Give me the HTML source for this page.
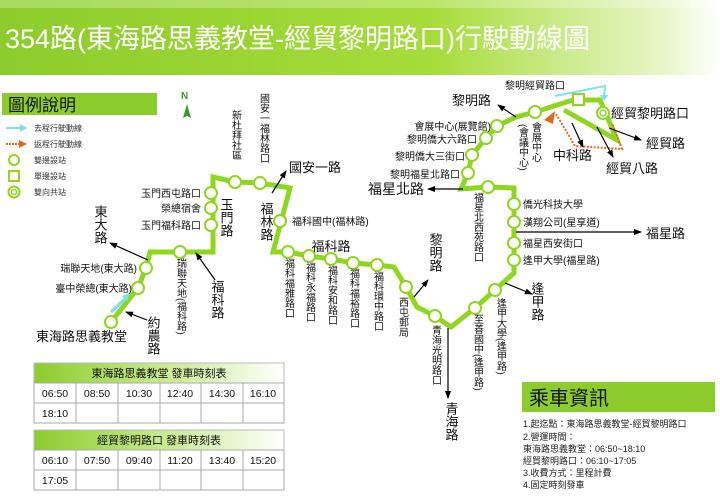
<!DOCTYPE html>
<html><head><meta charset="utf-8"><style>
body{margin:0;width:720px;height:491px;overflow:hidden;background:#fff;font-family:"Liberation Sans","Noto Sans CJK TC",sans-serif}
svg text{font-family:"Liberation Sans","Noto Sans CJK TC",sans-serif}
</style></head><body>
<svg width="720" height="491" viewBox="0 0 720 491" xmlns="http://www.w3.org/2000/svg">
<defs>
<linearGradient id="hd" x1="0" x2="1" y1="0" y2="0">
<stop offset="0" stop-color="#8ccc2c"/><stop offset="0.6" stop-color="#a6dc3a"/><stop offset="0.92" stop-color="#e8f6c8"/><stop offset="1" stop-color="#fff"/></linearGradient>
<linearGradient id="th" x1="0" x2="1"><stop offset="0" stop-color="#8ccc2c"/><stop offset="0.5" stop-color="#c6ea8a"/><stop offset="1" stop-color="#fff"/></linearGradient>
<marker id="ar" markerWidth="8" markerHeight="8" refX="7" refY="4" orient="auto" markerUnits="userSpaceOnUse"><path d="M0,1 L8,4 L0,7z" fill="#000"/></marker>
</defs>
<rect x="0" y="0" width="720" height="75" fill="url(#hd)"/>
<rect x="0" y="0" width="720" height="8" fill="#fff" opacity="0.25"/>
<text x="5" y="48" font-size="27" fill="#fff">354路(東海路思義教堂-經貿黎明路口)行駛動線圖</text>

<!-- legend -->
<rect x="2" y="93" width="155" height="22" fill="#8ccc2c"/>
<text x="8" y="111" font-size="17" fill="#111">圖例說明</text>
<g font-size="8" fill="#333">
<line x1="6" y1="128" x2="22" y2="128" stroke="#7ee0f0" stroke-width="2"/><path d="M20,124 L27,128 L20,132z" fill="#7ee0f0"/><text x="34" y="131">去程行駛動線</text>
<line x1="6" y1="144" x2="20" y2="144" stroke="#e06a1a" stroke-width="2" stroke-dasharray="2,1"/><path d="M19,140 L27,144 L19,148z" fill="#e06a1a"/><text x="34" y="147">返程行駛動線</text>
<circle cx="14" cy="160" r="5" fill="#fff" stroke="#8fd61e" stroke-width="2"/><text x="34" y="163">雙邊設站</text>
<rect x="9" y="171" width="10" height="10" fill="#fff" stroke="#8fd61e" stroke-width="2"/><text x="34" y="179">單邊設站</text>
<circle cx="14" cy="192" r="5.5" fill="#fff" stroke="#8fd61e" stroke-width="2"/><circle cx="14" cy="192" r="2.5" fill="none" stroke="#8fd61e" stroke-width="1.5"/><text x="34" y="195">雙向共站</text>
</g>
<text x="181" y="99" font-size="10" font-weight="bold" fill="#3a9a2a">N</text>
<path d="M187,104 L183,118 L187,116 L191,118z" fill="#3a9a2a"/>

<!-- route -->
<g fill="none" stroke="#8fd61e" stroke-width="5" stroke-linejoin="miter">
<polyline points="111,322 138,288 146,268 150,252 213,252 213,177 235,182 260,183 290,188 273,252 288,252 309,256 331,259 353,263 377,265 394,267 406,287 417,307 435,316 451,327 475,308 495,290 514,273 514,188 488,187 461,189 468,173 472,155 486,138 497,126 516,117 535,112 573,100"/>
<polyline points="573,100 600,100 617,140 564,110"/>
</g>
<!-- direction lines -->
<polyline points="555,96 605,86 604,97" fill="none" stroke="#7ee0f0" stroke-width="2"/>
<path d="M600,95 L604,101 L608,95z" fill="#7ee0f0"/>
<polyline points="556,114 575,146 622,149 612,123" fill="none" stroke="#e06a1a" stroke-width="2" stroke-dasharray="2,1.5"/>
<path d="M544,120 L555,111 L553,124z" fill="#e06a1a"/>
<line x1="111" y1="312" x2="126" y2="298" stroke="#7ee0f0" stroke-width="3"/>
<path d="M122,296 L130,293 L127,301z" fill="#7ee0f0"/>

<!-- stations -->
<g fill="#fff" stroke="#8fd61e" stroke-width="2">
<circle cx="111" cy="322" r="6"/><circle cx="138" cy="288" r="6"/><circle cx="146" cy="268" r="6"/><circle cx="180" cy="252" r="6"/>
<circle cx="211" cy="193" r="6"/><circle cx="211" cy="208" r="6"/><circle cx="211" cy="225" r="6"/>
<circle cx="235" cy="182" r="6"/><circle cx="260" cy="183" r="6"/><circle cx="280" cy="221" r="6"/>
<circle cx="288" cy="252" r="6"/><circle cx="309" cy="256" r="6"/><circle cx="331" cy="259" r="6"/><circle cx="353" cy="263" r="6"/><circle cx="377" cy="265" r="6"/>
<circle cx="406" cy="287" r="6"/><circle cx="435" cy="316" r="6"/><circle cx="475" cy="308" r="6"/><circle cx="495" cy="290" r="6"/>
<circle cx="514" cy="260" r="6"/><circle cx="514" cy="243" r="6"/><circle cx="514" cy="222" r="6"/><circle cx="514" cy="204" r="6"/><circle cx="488" cy="187" r="6"/>
<circle cx="468" cy="173" r="6"/><circle cx="472" cy="155" r="6"/><circle cx="486" cy="138" r="6"/><circle cx="497" cy="126" r="6"/><circle cx="535" cy="112" r="6"/>
<rect x="573" y="94" width="11" height="11"/>
<circle cx="603" cy="113" r="6"/>
</g>
<circle cx="603" cy="113" r="3" fill="none" stroke="#8fd61e" stroke-width="1.5"/>

<!-- arrows -->
<g stroke="#000" stroke-width="1.2" marker-end="url(#ar)">
<line x1="272" y1="193" x2="286" y2="171"/>
<line x1="148" y1="260" x2="110" y2="243"/>
<line x1="147" y1="320" x2="126" y2="312"/>
<line x1="215" y1="280" x2="196" y2="253"/>
<line x1="414" y1="297" x2="428" y2="280"/>
<line x1="448" y1="328" x2="448" y2="398"/>
<line x1="505" y1="283" x2="532" y2="294"/>
<line x1="516" y1="232" x2="641" y2="232"/>
<line x1="463" y1="189" x2="428" y2="189"/>
<line x1="516" y1="117" x2="498" y2="105"/>
<line x1="572" y1="123" x2="583" y2="147"/>
<line x1="597" y1="127" x2="613" y2="157"/>
<line x1="609" y1="128" x2="641" y2="140"/>
</g>

<!-- labels -->
<g fill="#111" font-size="11">
<text x="127" y="341" font-size="13" text-anchor="end">東海路思義教堂</text>
<text x="132" y="292" text-anchor="end" font-size="10">臺中榮總(東大路)</text>
<text x="137" y="272" text-anchor="end" font-size="10">瑞聯天地(東大路)</text>
<text x="201" y="197" text-anchor="end" font-size="10">玉門西屯路口</text>
<text x="201" y="212" text-anchor="end" font-size="10">榮總宿舍</text>
<text x="201" y="229" text-anchor="end" font-size="10">玉門福科路口</text>
<text x="292" y="225" font-size="10">福科國中(福林路)</text>
<text x="368" y="194" font-size="14">福星北路</text>
<text x="491" y="130" text-anchor="end" font-size="10">會展中心(展覽館)</text>
<text x="477" y="143" text-anchor="end" font-size="10">黎明僑大六路口</text>
<text x="465" y="160" text-anchor="end" font-size="10">黎明僑大三街口</text>
<text x="460" y="178" text-anchor="end" font-size="10">黎明福星北路口</text>
<text x="505" y="89" font-size="10">黎明經貿路口</text>
<text x="452" y="105" font-size="13">黎明路</text>
<text x="611" y="118" font-size="13">經貿黎明路口</text>
<text x="646" y="148" font-size="13">經貿路</text>
<text x="553" y="160" font-size="13">中科路</text>
<text x="606" y="173" font-size="13">經貿八路</text>
<text x="289" y="172" font-size="13">國安一路</text>
<text x="523" y="208" font-size="10">僑光科技大學</text>
<text x="523" y="226" font-size="10">漢翔公司(星享道)</text>
<text x="523" y="247" font-size="10">福星西安街口</text>
<text x="523" y="264" font-size="10">逢甲大學(福星路)</text>
<text x="646" y="238" font-size="13">福星路</text>
<text x="331" y="251" font-size="13" text-anchor="middle">福科路</text>
</g>
<!-- vertical labels -->
<g fill="#111" font-size="11" style="writing-mode:vertical-rl" text-anchor="start">
<text x="100" y="205" font-size="13">東大路</text>
<text x="153" y="316" font-size="13">約農路</text>
<text x="180" y="258" font-size="10">瑞聯天地(福科路)</text>
<text x="217" y="280" font-size="13">福科路</text>
<text x="226" y="198" font-size="13">玉門路</text>
<text x="266" y="202" font-size="13">福林路</text>
<text x="235" y="110" font-size="10">新杜拜社區</text>
<text x="263" y="93" font-size="10">國安一福林路口</text>
<text x="288" y="258" font-size="10">福科福雅路口</text>
<text x="309" y="262" font-size="10">福科永福路口</text>
<text x="331" y="265" font-size="10">福科安和路口</text>
<text x="353" y="268" font-size="10">福科福裕路口</text>
<text x="377" y="271" font-size="10">福科環中路口</text>
<text x="402" y="297" font-size="10">西屯郵局</text>
<text x="435" y="233" font-size="13">黎明路</text>
<text x="435" y="325" font-size="10">青海光明路口</text>
<text x="451" y="402" font-size="13">青海路</text>
<text x="477" y="314" font-size="10">至善國中(逢甲路)</text>
<text x="500" y="298" font-size="10">逢甲大學(逢甲路)</text>
<text x="537" y="282" font-size="13">逢甲路</text>
<text x="477" y="192" font-size="10">福星北西苑路口</text>
<text x="535" y="122" font-size="10">會展中心</text>
<text x="522" y="124" font-size="10">(會議中心)</text>
</g>

<!-- tables -->
<g font-size="10.5" fill="#111" text-anchor="middle">
<rect x="34" y="363" width="250" height="20" fill="url(#th)" stroke="#bbb"/>
<text x="159" y="377" font-size="11">東海路思義教堂 發車時刻表</text>
<rect x="34" y="383" width="250" height="40" fill="#fff" stroke="#aaa"/>
<path d="M34,403H284 M76,383V423 M118,383V423 M160,383V423 M201,383V423 M243,383V423" stroke="#aaa"/>
<text x="55" y="397">06:50</text><text x="97" y="397">08:50</text><text x="139" y="397">10:30</text><text x="180" y="397">12:40</text><text x="222" y="397">14:30</text><text x="263" y="397">16:10</text>
<text x="55" y="417">18:10</text>
<rect x="34" y="430" width="250" height="20" fill="url(#th)" stroke="#bbb"/>
<text x="159" y="444" font-size="11">經貿黎明路口 發車時刻表</text>
<rect x="34" y="450" width="250" height="40" fill="#fff" stroke="#aaa"/>
<path d="M34,470H284 M76,450V490 M118,450V490 M160,450V490 M201,450V490 M243,450V490" stroke="#aaa"/>
<text x="55" y="464">06:10</text><text x="97" y="464">07:50</text><text x="139" y="464">09:40</text><text x="180" y="464">11:20</text><text x="222" y="464">13:40</text><text x="263" y="464">15:20</text>
<text x="55" y="484">17:05</text>
</g>

<rect x="522" y="382" width="193" height="30" fill="#8ccc2c"/>
<text x="529" y="405" font-size="20" fill="#111">乘車資訊</text>
<g font-size="9" fill="#222">
<text x="523" y="427">1.起迄點：東海路思義教堂-經貿黎明路口</text>
<text x="523" y="440">2.營運時間：</text>
<text x="523" y="452">東海路思義教堂：06:50~18:10</text>
<text x="523" y="464">經貿黎明路口：06:10~17:05</text>
<text x="523" y="476">3.收費方式：里程計費</text>
<text x="523" y="488">4.固定時刻發車</text>
</g>
</svg>
</body></html>
